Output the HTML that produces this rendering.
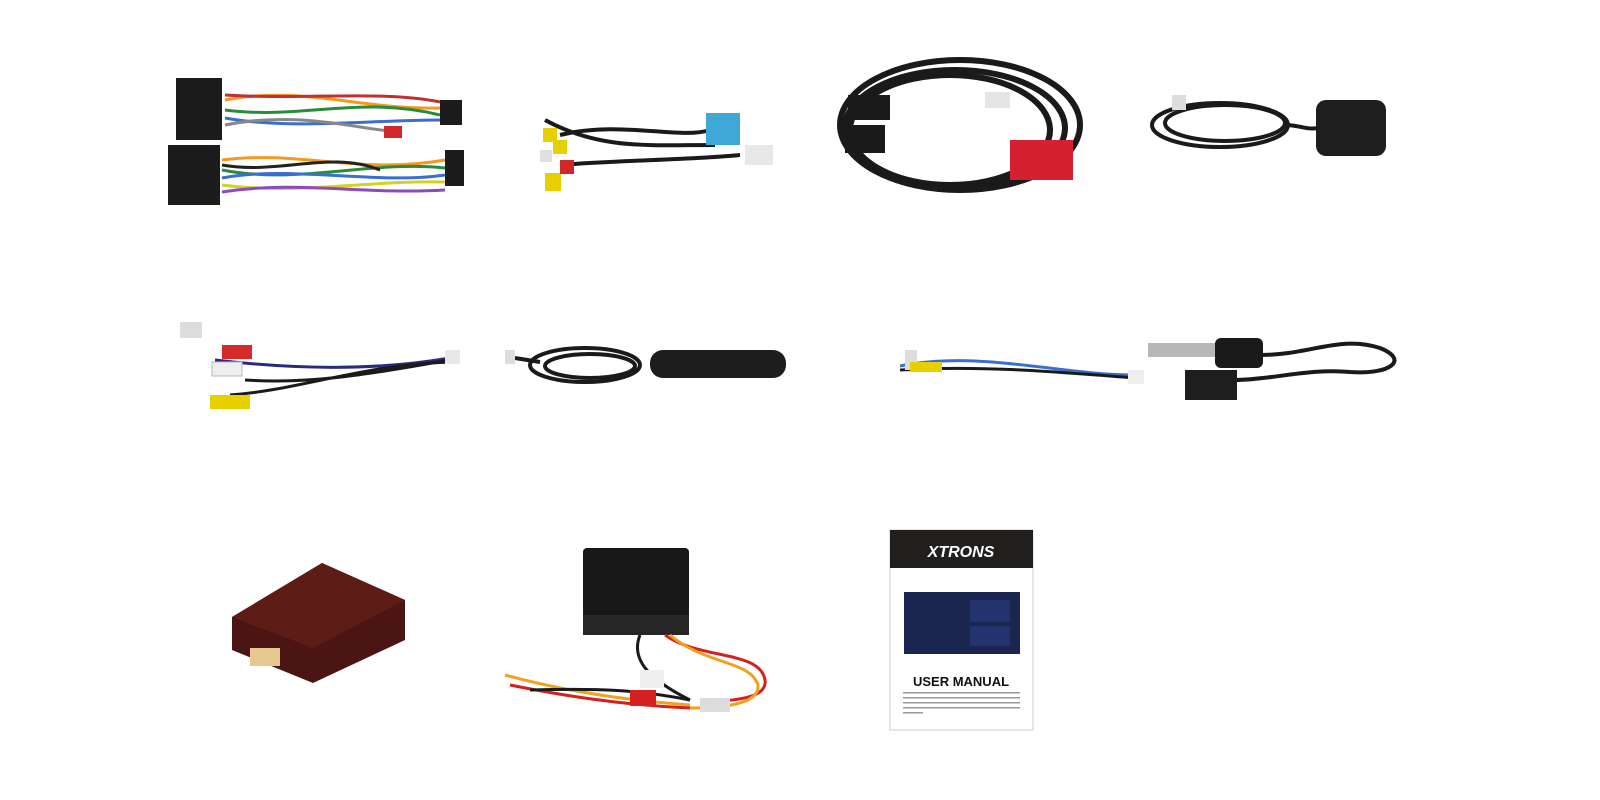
<!DOCTYPE html>
<html><head><meta charset="utf-8"><style>
html,body{margin:0;padding:0;background:#fff;width:1600px;height:800px;overflow:hidden}
svg{display:block}
</style></head><body>
<svg width="1600" height="800" viewBox="0 0 1600 800" xmlns="http://www.w3.org/2000/svg" font-family="Liberation Sans, sans-serif">
<rect width="1600" height="800" fill="#fff"/>
<!-- Item 1 harness -->
<g stroke-width="3" fill="none">
<path d="M225 100 C300 85 360 110 440 108" stroke="#f39a1e"/>
<path d="M225 110 C300 120 360 95 440 115" stroke="#2a8c3a"/>
<path d="M225 118 C290 130 370 120 440 120" stroke="#3a6fd0"/>
<path d="M225 95 C300 100 380 90 440 102" stroke="#c03030"/>
<path d="M225 125 C300 110 360 130 400 132" stroke="#888"/>
<path d="M222 160 C300 150 360 175 445 160" stroke="#f39a1e"/>
<path d="M222 170 C300 185 370 160 445 168" stroke="#2a8c3a"/>
<path d="M222 178 C290 165 380 185 445 175" stroke="#3a6fd0"/>
<path d="M222 185 C300 195 370 180 445 182" stroke="#d8d020"/>
<path d="M222 192 C300 180 360 195 445 190" stroke="#8a4ac0"/>
<path d="M222 165 C280 175 330 150 380 170" stroke="#222"/>
</g>
<rect x="176" y="78" width="46" height="62" fill="#1c1c1c"/>
<rect x="168" y="145" width="52" height="60" fill="#1c1c1c"/>
<rect x="440" y="100" width="22" height="25" fill="#1c1c1c"/>
<rect x="445" y="150" width="19" height="36" fill="#1c1c1c"/>
<rect x="384" y="126" width="18" height="12" fill="#d02828"/>
<!-- Item 2 RCA -->
<g stroke="#1a1a1a" stroke-width="4" fill="none">
<path d="M560 135 C620 120 680 140 710 130"/>
<path d="M560 165 C620 160 690 160 740 155"/>
<path d="M545 120 C600 150 650 145 715 145"/>
</g>
<rect x="706" y="113" width="34" height="32" fill="#3fa8d8"/>
<rect x="745" y="145" width="28" height="20" fill="#e8e8e8"/>
<rect x="543" y="128" width="14" height="14" fill="#e8d000"/>
<rect x="553" y="140" width="14" height="14" fill="#e8d000"/>
<rect x="545" y="173" width="16" height="18" fill="#e8d000"/>
<rect x="560" y="160" width="14" height="14" fill="#d02828"/>
<rect x="540" y="150" width="12" height="12" fill="#e0e0e0"/>
<!-- Item 3 coiled cable -->
<g stroke="#1a1a1a" stroke-width="6" fill="none">
<ellipse cx="960" cy="125" rx="120" ry="65"/>
<ellipse cx="955" cy="128" rx="110" ry="58"/>
<ellipse cx="950" cy="130" rx="100" ry="55"/>
</g>
<rect x="848" y="95" width="42" height="25" fill="#1a1a1a"/>
<rect x="845" y="125" width="40" height="28" fill="#1a1a1a"/>
<rect x="1010" y="140" width="63" height="40" fill="#d42030"/>
<rect x="985" y="92" width="25" height="16" fill="#e5e5e5"/>
<!-- Item 4 GPS -->
<g stroke="#1a1a1a" stroke-width="4" fill="none">
<ellipse cx="1220" cy="125" rx="68" ry="22"/>
<ellipse cx="1225" cy="123" rx="60" ry="18"/>
<path d="M1285 125 C1300 125 1305 130 1318 128"/>
</g>
<rect x="1316" y="100" width="70" height="56" rx="10" fill="#1e1e1e"/>
<rect x="1172" y="95" width="14" height="15" fill="#ddd"/>
<!-- Row 2 -->
<g stroke-width="3" fill="none">
<path d="M215 360 C300 370 380 370 450 358" stroke="#2a2a80"/>
<path d="M245 380 C320 385 390 370 450 360" stroke="#1a1a1a"/>
<path d="M230 395 C300 390 360 365 450 362" stroke="#1a1a1a"/>
</g>
<rect x="180" y="322" width="22" height="16" fill="#ddd"/>
<rect x="222" y="345" width="30" height="14" fill="#d62a2a"/>
<rect x="212" y="362" width="30" height="14" fill="#eee" stroke="#bbb"/>
<rect x="210" y="395" width="40" height="14" fill="#e8d000"/>
<rect x="445" y="350" width="15" height="14" fill="#e8e8e8"/>
<g stroke="#1a1a1a" stroke-width="4" fill="none">
<ellipse cx="585" cy="365" rx="55" ry="17"/>
<ellipse cx="590" cy="366" rx="45" ry="12"/>
<path d="M515 358 L540 362"/>
</g>
<rect x="650" y="350" width="136" height="28" rx="13" fill="#1d1d1d"/>
<rect x="505" y="350" width="10" height="14" fill="#ddd"/>
<g stroke-width="3" fill="none">
<path d="M900 366 C980 350 1060 375 1135 375" stroke="#3a6fd0"/>
<path d="M900 370 C980 365 1060 372 1135 378" stroke="#1a1a1a"/>
</g>
<rect x="905" y="350" width="12" height="20" fill="#ddd"/>
<rect x="910" y="362" width="32" height="10" fill="#e8d000"/>
<rect x="1128" y="370" width="16" height="14" fill="#eee"/>
<g stroke="#1a1a1a" stroke-width="4" fill="none">
<path d="M1260 355 C1310 355 1340 335 1380 348 C1410 360 1390 375 1350 372 C1310 368 1270 380 1235 380"/>
</g>
<rect x="1148" y="343" width="70" height="14" fill="#b8b8b8"/>
<rect x="1215" y="338" width="48" height="30" rx="6" fill="#1a1a1a"/>
<rect x="1185" y="370" width="52" height="30" fill="#1e1e1e"/>
<!-- Row 3 brown box -->
<polygon points="232,617 322,563 405,600 405,640 313,683 232,650" fill="#4a1512"/>
<polygon points="232,617 322,563 405,600 313,648" fill="#5e1c17"/>
<rect x="250" y="648" width="30" height="18" fill="#e6c890"/>
<!-- black box -->
<rect x="583" y="548" width="106" height="80" rx="4" fill="#181818"/>
<rect x="583" y="615" width="106" height="20" fill="#262626"/>
<g stroke-width="3" fill="none">
<path d="M665 635 C700 660 760 650 765 680 C768 700 730 700 700 703" stroke="#d42020"/>
<path d="M670 635 C705 665 750 660 758 685 C760 705 720 708 690 708" stroke="#f2a020"/>
<path d="M505 675 C560 690 620 700 690 705" stroke="#f2a020"/>
<path d="M510 685 C560 695 620 705 690 708" stroke="#d42020"/>
<path d="M530 690 C600 688 640 690 690 700" stroke="#1a1a1a"/>
<path d="M640 635 C630 660 650 680 690 700" stroke="#1a1a1a"/>
</g>
<rect x="640" y="670" width="24" height="18" fill="#eee"/>
<rect x="630" y="690" width="26" height="16" fill="#d42020"/>
<rect x="700" y="698" width="30" height="14" fill="#ddd"/>
<!-- Manual -->
<rect x="890" y="530" width="143" height="200" fill="#fff" stroke="#ccc"/>
<rect x="890" y="530" width="143" height="38" fill="#221f1f"/>
<text x="961" y="557" text-anchor="middle" font-size="16" font-weight="bold" font-style="italic" fill="#fff">XTRONS</text>
<rect x="904" y="592" width="116" height="62" fill="#1a2550"/>
<rect x="970" y="600" width="40" height="22" fill="#243270"/>
<rect x="970" y="626" width="40" height="20" fill="#243270"/>
<text x="961" y="686" text-anchor="middle" font-size="13" font-weight="bold" fill="#111">USER MANUAL</text>
<g fill="#999"><rect x="903" y="692" width="117" height="1.5"/><rect x="903" y="697" width="117" height="1.5"/><rect x="903" y="702" width="117" height="1.5"/><rect x="903" y="707" width="117" height="1.5"/><rect x="903" y="712" width="20" height="1.5"/></g>
</svg>
</body></html>
